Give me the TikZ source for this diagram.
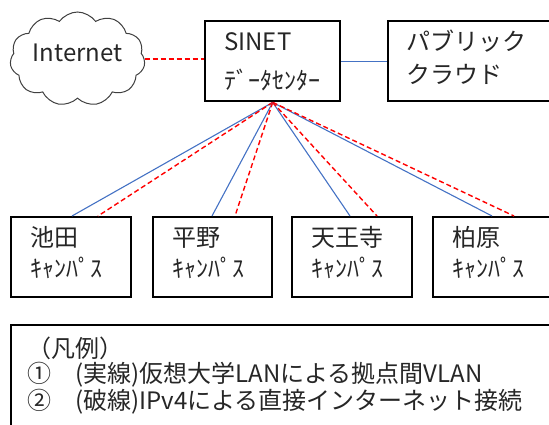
\documentclass[tikz,border=0pt]{standalone}
\usepackage{fontspec}
\setmainfont{Noto Sans CJK JP}
\usetikzlibrary{shapes.symbols,calc}
\definecolor{lanblue}{HTML}{4472C4}
\definecolor{netred}{HTML}{FF0000}
\begin{document}
\begin{tikzpicture}[x=1pt,y=-1pt,
  box/.style={draw=black, line width=2.4pt, fill=white, rectangle, inner sep=0pt, anchor=north west, minimum height=80pt},
  lbl/.style={anchor=base west, inner sep=0pt, font=\fontsize{24}{28}\selectfont, text=black!85},
  vlan/.style={draw=lanblue, line width=1.1pt},
  inet/.style={draw=netred, line width=1.4pt, dash pattern=on 5pt off 3pt}]
\useasboundingbox (0,0) rectangle (549,425);
\clip (0,0) rectangle (549,425);

% boxes
\node[box, minimum width=135pt] (sinet) at (204,20) {};
\node[box, minimum width=180pt] (pub) at (387,20) {};
\node[box, minimum width=120pt] (c1) at (10,216) {};
\node[box, minimum width=119pt] (c2) at (152,216) {};
\node[box, minimum width=120pt] (c3) at (291,216) {};
\node[box, minimum width=130pt] (c4) at (432,216) {};
\node[box, minimum width=560pt, minimum height=120pt] (legend) at (10,324) {};

% cloud
\node[cloud, draw=black!75, line width=1pt, cloud puffs=11, cloud puff arc=110,
      cloud ignores aspect, minimum width=135pt, minimum height=94pt, inner sep=0pt]
      (cloud) at (77.5,59) {};

% labels
\node[lbl, anchor=base] (inettext) at (77.5,62) {Internet};
\node[lbl] (sinetA) at (224,51) {SINET};
\node[lbl] (sinetB) at (224,90) {ﾃﾞｰﾀｾﾝﾀｰ};
\node[lbl] (pubA) at (406,51) {パブリック};
\node[lbl] (pubB) at (406,84) {クラウド};
\node[lbl] (c1A) at (30,246) {池田};
\node[lbl] (c1B) at (30,277) {ｷｬﾝﾊﾟｽ};
\node[lbl] (c2A) at (172,246) {平野};
\node[lbl] (c2B) at (172,277) {ｷｬﾝﾊﾟｽ};
\node[lbl] (c3A) at (311,246) {天王寺};
\node[lbl] (c3B) at (311,277) {ｷｬﾝﾊﾟｽ};
\node[lbl] (c4A) at (452,246) {柏原};
\node[lbl] (c4B) at (452,277) {ｷｬﾝﾊﾟｽ};
\node[lbl] (legA) at (27,357) {（凡例）};
\node[lbl] (legB) at (27,382) {①　(実線)仮想大学LANによる拠点間VLAN};
\node[lbl] (legC) at (27,409) {②　(破線)IPv4による直接インターネット接続};

% connectors
\draw[inet] (cloud.east) -- (cloud.east -| sinet.west);
\draw[vlan] (sinet.east) -- (pub.west);
\draw[vlan] (sinet.south) -- ($(c1.north west)+(62,0)$);
\draw[inet] (sinet.south) -- ($(c1.north west)+(88,0)$);
\draw[vlan] (sinet.south) -- ($(c2.north west)+(60,0)$);
\draw[inet] (sinet.south) -- ($(c2.north west)+(83,0)$);
\draw[vlan] (sinet.south) -- ($(c3.north west)+(59,0)$);
\draw[inet] (sinet.south) -- ($(c3.north west)+(86,0)$);
\draw[vlan] (sinet.south) -- ($(c4.north west)+(60,0)$);
\draw[inet] (sinet.south) -- ($(c4.north west)+(82,0)$);
\end{tikzpicture}
\end{document}
